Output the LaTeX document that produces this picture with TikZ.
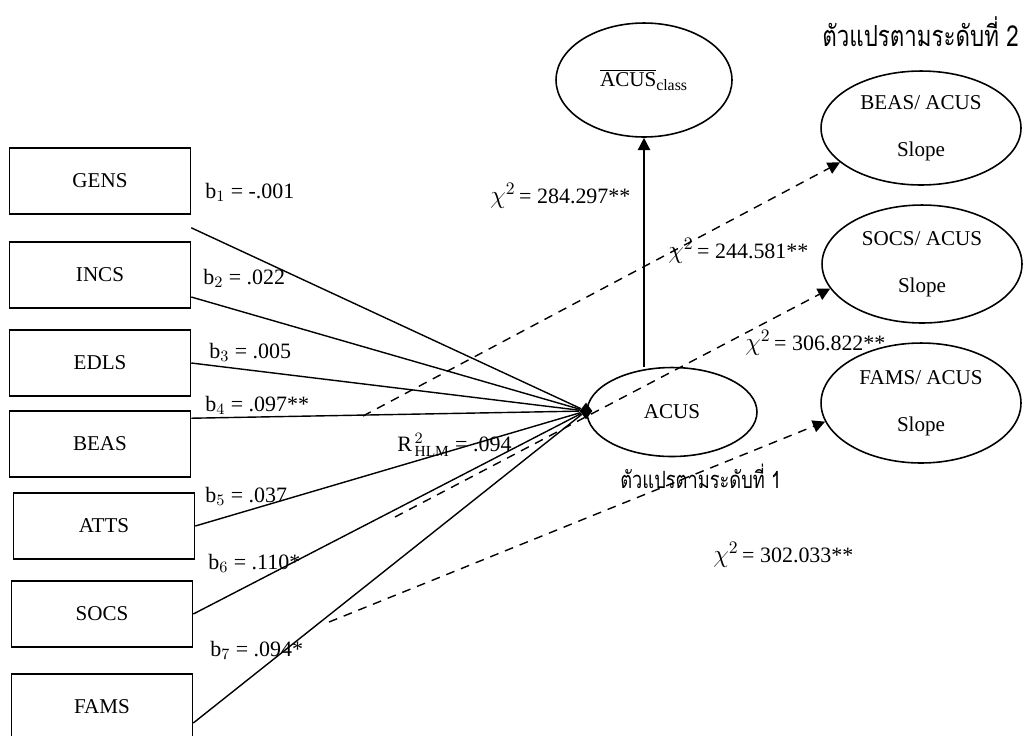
\documentclass[tikz,border=0pt]{standalone}
\usepackage{fontspec}
\setmainfont{Liberation Serif}
\newfontfamily\thaifont[Script=Thai]{Loma}
\usetikzlibrary{arrows.meta, positioning, shapes.geometric, calc}

\newcommand{\chisym}{{\fontsize{14}{14}\selectfont$\chi^{2}$}\,}

\begin{document}
\begin{tikzpicture}[
x=0.02cm, y=-0.02cm,
box/.style={rectangle, draw=black, line width=0.9pt, minimum width=3.62cm, minimum height=1.32cm, font=\fontsize{12}{14}\selectfont},
latent/.style={ellipse, draw=black, line width=0.9pt, inner sep=0pt, align=center, font=\fontsize{12}{27}\selectfont},
coef/.style={anchor=west, inner sep=0pt, font=\fontsize{12.5}{14}\selectfont},
chisq/.style={anchor=west, inner sep=0pt, font=\fontsize{12.5}{14}\selectfont},
thai/.style={anchor=west, inner sep=0pt, font=\thaifont},
link/.style={line width=0.8pt},
slope/.style={line width=0.8pt, dash pattern=on 5pt off 4pt, -{Triangle[length=7pt, width=7pt]}}
]
\useasboundingbox (0,0) rectangle (1023,735);

\node[box] (gens) at (100,181) {GENS};
\node[box] (incs) at (100,275) {INCS};
\node[box] (edls) at (100,363) {EDLS};
\node[box] (beas) at (100,444) {BEAS};
\node[box] (atts) at (104,526) {ATTS};
\node[box] (socs) at (102,614) {SOCS};
\node[box] (fams) at (102,707) {FAMS};

\node[diamond, fill=black, inner sep=0pt, minimum width=0.26cm, minimum height=0.34cm] (hub) at (586,411) {};

\node[latent, minimum width=3.4cm, minimum height=1.78cm] (acus) at (672,412) {ACUS};
\node[latent, minimum width=3.52cm, minimum height=2.28cm] (acusc) at (644,80) {$\overline{\hbox{ACUS}}_{\hbox{\fontsize{9}{9}\selectfont class}}$};
\node[latent, minimum width=4cm, minimum height=2.28cm] (beasl) at (921,128) {BEAS/ ACUS\\Slope};
\node[latent, minimum width=4cm, minimum height=2.36cm] (socsl) at (922,264) {SOCS/ ACUS\\Slope};
\node[latent, minimum width=4cm, minimum height=2.4cm] (famsl) at (921,403) {FAMS/ ACUS\\Slope};

\draw[link] ($(gens.south east)+(0,13)$) -- (hub);
\draw[link] ($(incs.east)+(0,22)$) -- (hub);
\draw[link] (edls.east) -- (hub);
\draw[link] ($(beas.north east)+(0,8)$) -- (hub);
\draw[link] (atts.east) -- (hub);
\draw[link] (socs.east) -- (hub);
\draw[link] ($(fams.east)+(0,16)$) -- (hub);

\draw[link, -{Triangle[length=7pt, width=7pt]}] (acus.north -| acusc.south) -- (acusc);

\coordinate (m4) at (363,416);
\coordinate (m6) at (395,517);
\coordinate (m7) at (329,622);
\draw[slope] (m4) -- (beasl.203);
\draw[slope] (m6) -- (socsl.195);
\draw[slope] (m7) -- (famsl.191);

\node[coef] (b1) at (205,192) {b$_1$ = -.001};
\node[coef] (b2) at (203,278) {b$_2$ = .022};
\node[coef] (b3) at (209,352) {b$_3$ = .005};
\node[coef] (b4) at (205,405) {b$_4$ = .097**};
\node[coef] (b5) at (205,496) {b$_5$ = .037};
\node[coef] (b6) at (208,563) {b$_6$ = .110*};
\node[coef] (b7) at (210,650) {b$_7$ = .094*};
\node[coef] (r2) at (397,445) {R$^{\,2}_{\,\mathrm{HLM}}$ = .094};

\node[chisq] (c1) at (490,196) {\chisym= 284.297**};
\node[chisq] (c2) at (668,251) {\chisym = 244.581**};
\node[chisq] (c3) at (745,343) {\chisym = 306.822**};
\node[chisq] (c4) at (713,555) {\chisym = 302.033**};

\node[thai] (lv2) at (822,32) {\scalebox{1}[1.3]{\fontsize{12.7}{15}\selectfont ตัวแปรตามระดับที่ 2}};
\node[thai] (lv1) at (620,476) {\scalebox{1}[1.3]{\fontsize{10.4}{13}\selectfont ตัวแปรตามระดับที่ 1}};
\end{tikzpicture}
\end{document}
